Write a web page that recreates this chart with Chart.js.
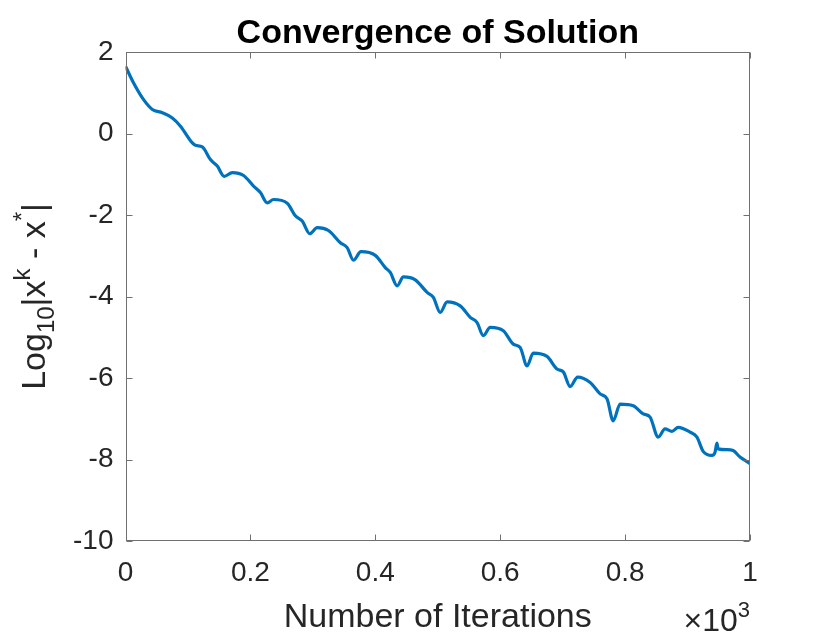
<!DOCTYPE html>
<html>
<head>
<meta charset="utf-8">
<title>Convergence of Solution</title>
<script src="https://cdn.jsdelivr.net/npm/chart.js@4/dist/chart.umd.min.js"></script>
<style>
  html, body { margin: 0; padding: 0; background: #fff; }
  #wrap { width: 830px; height: 638px; }
</style>
</head>
<body>
<div id="wrap"><canvas id="chart" width="830" height="638"></canvas></div>
<script>
// iterations and log10 error at each one
const iterations = [
  0, 13, 29, 43, 59, 75, 88, 107, 112, 123,
  136, 147, 158, 171, 189, 205, 216, 227, 237, 259,
  272, 283, 295, 307, 325, 344, 355, 365, 377, 400,
  416, 424, 435, 445, 464, 483, 493, 504, 515, 536,
  552, 563, 573, 584, 605, 621, 632, 643, 653, 675,
  691, 701, 712, 724, 744, 760, 771, 781, 792, 813,
  829, 840, 853, 864, 875, 885, 904, 915, 925, 939,
  944, 947, 949, 963, 973, 984, 997, 1000
]
const logError = [
  1.65, 1.24, 0.83, 0.59, 0.51, 0.38, 0.18, -0.23, -0.29, -0.33,
  -0.64, -0.80, -1.05, -0.96, -1.03, -1.29, -1.45, -1.70, -1.62, -1.71,
  -2.02, -2.15, -2.46, -2.31, -2.38, -2.68, -2.80, -3.11, -2.90, -2.99,
  -3.29, -3.41, -3.74, -3.52, -3.59, -3.90, -4.02, -4.39, -4.13, -4.23,
  -4.51, -4.64, -4.96, -4.76, -4.84, -5.17, -5.25, -5.70, -5.39, -5.47,
  -5.78, -5.85, -6.21, -5.98, -6.11, -6.39, -6.51, -7.05, -6.64, -6.68,
  -6.88, -6.96, -7.45, -7.25, -7.31, -7.21, -7.33, -7.45, -7.80, -7.90,
  -7.82, -7.60, -7.74, -7.76, -7.78, -7.94, -8.07, -8.10
]
const xTicks = [0, 200, 400, 600, 800, 1000]
const yTicks = [-10, -8, -6, -4, -2, 0, 2]

const TITLE = 'Convergence of Solution'
const X_LABEL = 'Number of Iterations'

const FONT = '"Liberation Sans", Arimo, Helvetica, Arial, sans-serif'
const AXIS_COLOR = '#262626'
const FRAME_COLOR = '#707070'
const TICK_LEN = 6

// box round the axes, inward ticks on all four sides, and the texts
const framePlugin = {
  id: 'frame',
  afterDraw(chart) {
    const { ctx, chartArea: a, scales: { x, y } } = chart
    const L = Math.round(a.left) + 0.5
    const R = Math.round(a.right) - 0.5
    const T = Math.round(a.top) + 0.5
    const B = Math.round(a.bottom) - 0.5
    ctx.save()
    ctx.strokeStyle = FRAME_COLOR
    ctx.lineWidth = 1
    ctx.strokeRect(L, T, R - L, B - T)
    ctx.beginPath()
    xTicks.forEach(v => {
      const px = Math.round(x.getPixelForValue(v)) + 0.5
      ctx.moveTo(px, B); ctx.lineTo(px, B - TICK_LEN)
      ctx.moveTo(px, T); ctx.lineTo(px, T + TICK_LEN)
    })
    yTicks.forEach(v => {
      const py = Math.round(y.getPixelForValue(v)) + 0.5
      ctx.moveTo(L, py); ctx.lineTo(L + TICK_LEN, py)
      ctx.moveTo(R, py); ctx.lineTo(R - TICK_LEN, py)
    })
    ctx.stroke()

    const cx = (a.left + a.right) / 2
    const cy = (a.top + a.bottom) / 2

    // title
    ctx.fillStyle = '#000'
    ctx.font = 'bold 34px ' + FONT
    ctx.textAlign = 'center'
    ctx.textBaseline = 'alphabetic'
    ctx.fillText(TITLE, cx, 43)

    // x label
    ctx.fillStyle = AXIS_COLOR
    ctx.font = '34px ' + FONT
    ctx.fillText(X_LABEL, cx, 627)

    // x10^3 exponent note
    ctx.textAlign = 'left'
    const base = '\u00d710'
    ctx.font = '22px ' + FONT
    const supW = ctx.measureText('3').width
    ctx.font = '32px ' + FONT
    const baseW = ctx.measureText(base).width
    const ex = a.right - supW - baseW
    ctx.fillText(base, ex, 631)
    ctx.font = '22px ' + FONT
    ctx.fillText('3', ex + baseW, 617)

    // y label: Log_10 |x^k - x^*|
    const parts = [
      { t: 'Log', size: 34, dy: 0 },
      { t: '10', size: 24, dy: 9 },
      { t: '|x', size: 34, dy: 0 },
      { t: 'k', size: 24, dy: -15 },
      { t: ' - x', size: 34, dy: 0 },
      { t: '*', size: 24, dy: -15 },
      { t: '|', size: 34, dy: 0 }
    ]
    let total = 0
    parts.forEach(p => {
      ctx.font = p.size + 'px ' + FONT
      p.w = ctx.measureText(p.t).width
      total += p.w
    })
    ctx.translate(45, cy)
    ctx.rotate(-Math.PI / 2)
    let pos = -total / 2
    parts.forEach(p => {
      ctx.font = p.size + 'px ' + FONT
      ctx.fillText(p.t, pos, p.dy)
      pos += p.w
    })
    ctx.restore()
  }
}

const points = iterations.map((it, i) => ({ x: it, y: logError[i] }))

new Chart(document.getElementById('chart'), {
  type: 'line',
  data: {
    datasets: [{
      data: points,
      borderColor: '#0072BD',
      borderWidth: 3.2,
      pointRadius: 0,
      cubicInterpolationMode: 'monotone',
      fill: false
    }]
  },
  options: {
    responsive: false,
    animation: false,
    layout: { padding: { left: 0, top: 52, right: 80, bottom: 0 } },
    plugins: {
      legend: { display: false },
      tooltip: { enabled: false },
      title: { display: false }
    },
    scales: {
      x: {
        type: 'linear',
        min: 0,
        max: 1000,
        afterBuildTicks: s => { s.ticks = xTicks.map(v => ({ value: v })) },
        afterFit: s => { s.height = 638 - 541 },
        grid: { display: false, drawTicks: false },
        border: { display: false },
        ticks: {
          color: AXIS_COLOR,
          font: { family: FONT, size: 28 },
          padding: 15,
          maxRotation: 0,
          callback: v => String(v / 1000)
        }
      },
      y: {
        min: -10,
        max: 2,
        afterBuildTicks: s => { s.ticks = yTicks.map(v => ({ value: v })) },
        afterFit: s => { s.width = 125.5 },
        grid: { display: false, drawTicks: false },
        border: { display: false },
        ticks: {
          color: AXIS_COLOR,
          font: { family: FONT, size: 28 },
          padding: 12
        }
      }
    }
  },
  plugins: [framePlugin]
})
</script>
</body>
</html>
